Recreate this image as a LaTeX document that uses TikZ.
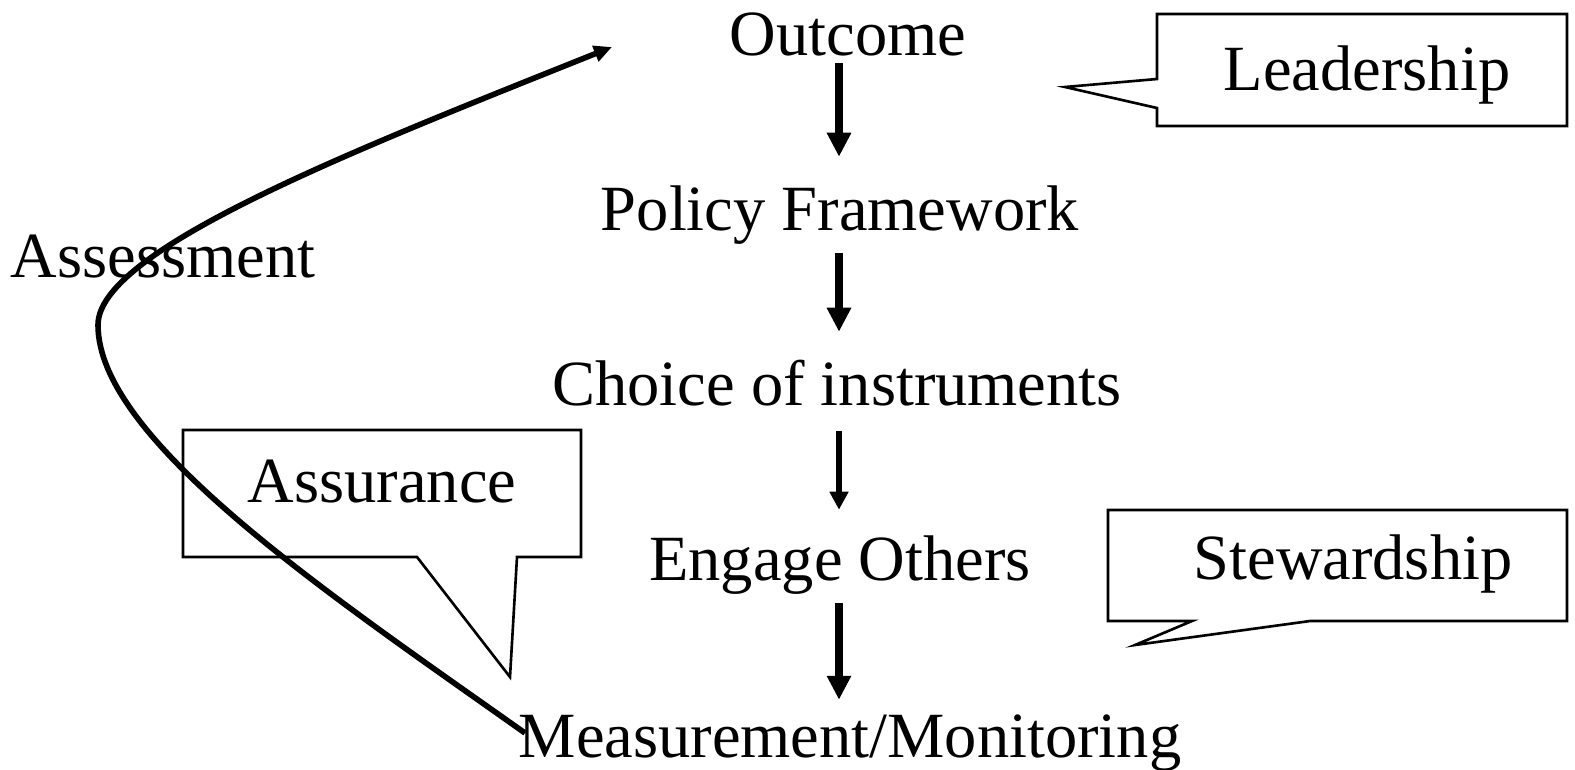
\documentclass[tikz,border=0pt]{standalone}
\usepackage{fontspec}
\setmainfont{Liberation Serif}
\usetikzlibrary{arrows.meta}

\begin{document}
\begin{tikzpicture}[x=0.02cm, y=-0.02cm,
    lbl/.style={anchor=base, inner sep=0pt, text height=25pt, text depth=0pt, font=\fontsize{36.7}{40}\selectfont},
    flow/.style={line width=4.4pt, -{Triangle[length=0.48cm, width=0.46cm]}, shorten <=0.46cm, shorten >=0.58cm},
    callout/.style={line width=1.5pt, line join=miter}]
    \useasboundingbox (0, 0) rectangle (1575, 769);

    % the chain
    \node[lbl] (outcome) at (848, 55) {Outcome};
    \node[lbl] (policy) at (840, 230) {Policy Framework};
    \node[lbl] (choice) at (837, 405) {Choice of instruments};
    \node[lbl] (engage) at (840, 580) {Engage Others};
    \node[lbl] (measure) at (850, 757) {Measurement/Monitoring};
    \coordinate (ax) at (839, 0);

    \draw[flow, shorten <=0.16cm] (outcome.south -| ax) -- (policy.north -| ax);
    \draw[flow] (policy.south -| ax) -- (choice.north -| ax);
    \draw[flow, line width=3.4pt, -{Triangle[length=0.36cm, width=0.36cm]}, shorten <=0.52cm, shorten >=0.52cm] (choice.south -| ax) -- (engage.north -| ax);
    \draw[flow, shorten >=0.26cm] (engage.south -| ax) -- (measure.north -| ax);

    % callouts
    \draw[callout] (1157, 14) -- (1567, 14) -- (1567, 126) -- (1157, 126) -- (1157, 108) -- (1065, 87) -- (1157, 79) -- cycle;
    \node[lbl] (lead) at (1367, 90) {Leadership};

    \draw[callout] (1108, 510) -- (1567, 510) -- (1567, 621) -- (1310, 621) -- (1135, 645) -- (1192, 621) -- (1108, 621) -- cycle;
    \node[lbl] (steward) at (1353, 579) {Stewardship};

    \draw[callout] (183, 430) -- (581, 430) -- (581, 557) -- (517, 557) -- (510, 677) -- (417, 557) -- (183, 557) -- cycle;
    \node[lbl] (assure) at (382, 502) {Assurance};

    % loop back
    \node[lbl] (assess) at (163, 277) {Assessment};
    \coordinate (loopstart) at (525, 733);
    \coordinate (loopleft) at (98, 325);
    \coordinate (loopend) at (612, 47);
    \draw[line width=3.2pt, -{Triangle[length=0.36cm, width=0.32cm]}]
        (loopstart) .. controls (330, 595) and (98, 440) .. (loopleft)
        .. controls (98, 250) and (352, 151) .. (loopend);
\end{tikzpicture}
\end{document}
